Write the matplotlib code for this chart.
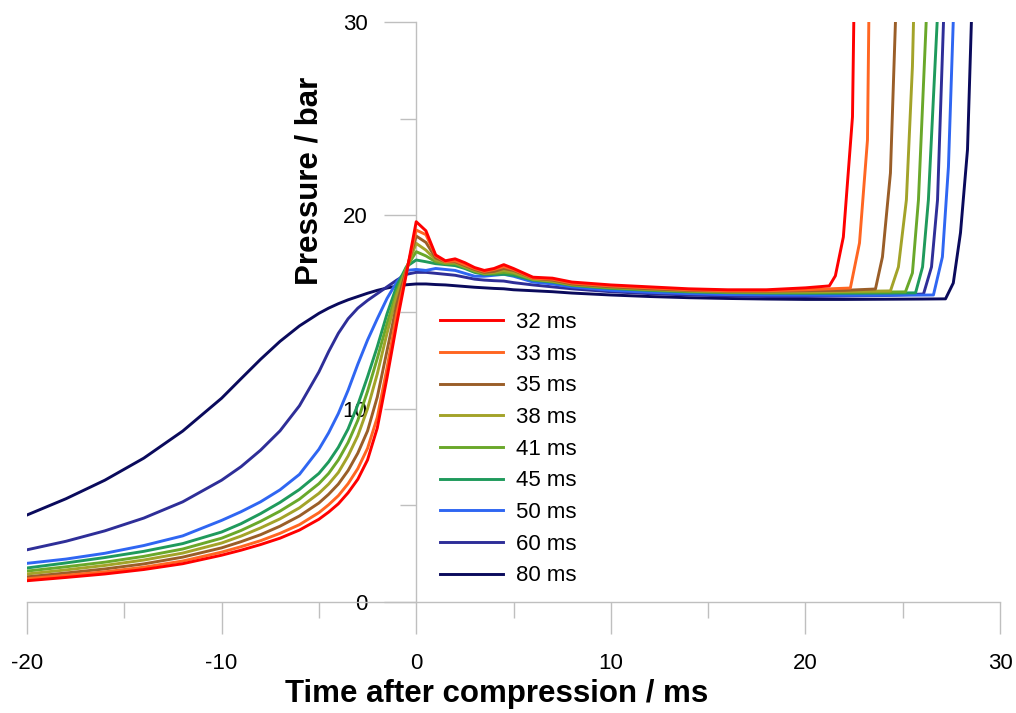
import matplotlib
matplotlib.use('Agg')
from matplotlib import pyplot as plt
from matplotlib.ticker import MultipleLocator

plt.rcParams['font.family'] = ['Liberation Sans', 'DejaVu Sans']
plt.rcParams['axes.unicode_minus'] = False

# common time grid (ms), each series gets its own tail after t = 20
t_base = [-20, -18, -16, -14, -12, -10, -9, -8, -7, -6, -5, -4.5, -4, -3.5, -3, -2.5, -2, -1.5, -1, -0.5,
          0, 0.5, 1, 1.5, 2, 2.5, 3, 3.5, 4, 4.5, 5, 6, 7, 8, 10, 12, 14, 16, 18, 20]

labels = ['32 ms', '33 ms', '35 ms', '38 ms', '41 ms', '45 ms', '50 ms', '60 ms', '80 ms']
colors = ['#FF0000', '#FF6622', '#9A5E28', '#A3A329', '#6AA82A', '#1F9A5C', '#2F66F2', '#2E2E98', '#0A0A5C']

p_32 = [1.1, 1.27, 1.45, 1.68, 1.98, 2.42, 2.68, 2.97, 3.3, 3.72, 4.28, 4.65, 5.08, 5.65, 6.35, 7.35, 9.0, 11.6, 14.4, 17.0,
        19.67, 19.2, 17.95, 17.65, 17.75, 17.55, 17.3, 17.15, 17.25, 17.45, 17.25, 16.8, 16.75, 16.55, 16.4, 16.3, 16.2, 16.15, 16.15, 16.25]
p_33 = [1.2, 1.38, 1.56, 1.8, 2.12, 2.58, 2.86, 3.17, 3.55, 4.0, 4.62, 5.03, 5.5, 6.12, 6.9, 7.95, 9.55, 12.1, 14.9, 17.1,
        19.24, 19.0, 17.9, 17.6, 17.65, 17.45, 17.25, 17.1, 17.2, 17.35, 17.2, 16.75, 16.7, 16.5, 16.35, 16.25, 16.15, 16.1, 16.1, 16.15]
p_35 = [1.3, 1.5, 1.71, 1.97, 2.32, 2.8, 3.12, 3.48, 3.92, 4.45, 5.12, 5.57, 6.1, 6.8, 7.7, 8.85, 10.6, 13.0, 15.4, 17.2,
        18.93, 18.6, 17.8, 17.6, 17.6, 17.4, 17.2, 17.05, 17.1, 17.25, 17.15, 16.75, 16.65, 16.45, 16.3, 16.2, 16.12, 16.08, 16.08, 16.1]
p_38 = [1.45, 1.66, 1.89, 2.17, 2.53, 3.05, 3.41, 3.83, 4.3, 4.87, 5.62, 6.1, 6.7, 7.55, 8.6, 10.0, 11.8, 13.9, 15.85, 17.25,
        18.55, 18.2, 17.7, 17.55, 17.55, 17.35, 17.15, 17.0, 17.05, 17.15, 17.05, 16.7, 16.6, 16.42, 16.28, 16.17, 16.1, 16.05, 16.04, 16.05]
p_41 = [1.6, 1.82, 2.06, 2.36, 2.74, 3.3, 3.7, 4.17, 4.7, 5.32, 6.12, 6.65, 7.35, 8.25, 9.4, 10.9, 12.6, 14.4, 16.05, 17.3,
        18.12, 17.9, 17.6, 17.5, 17.5, 17.3, 17.1, 16.98, 17.0, 17.05, 17.0, 16.68, 16.58, 16.4, 16.25, 16.15, 16.07, 16.02, 16.0, 16.0]
p_45 = [1.76, 2.02, 2.3, 2.62, 3.02, 3.62, 4.05, 4.57, 5.15, 5.82, 6.65, 7.25, 8.0, 8.95, 10.2, 11.65, 13.2, 14.9, 16.35, 17.35,
        17.69, 17.6, 17.5, 17.45, 17.4, 17.25, 17.05, 16.95, 16.95, 16.95, 16.9, 16.65, 16.55, 16.38, 16.22, 16.12, 16.04, 16.0, 15.98, 15.97]
p_50 = [2.0, 2.22, 2.52, 2.92, 3.42, 4.22, 4.67, 5.18, 5.8, 6.6, 7.9, 8.75, 9.75, 10.95, 12.3, 13.55, 14.65, 15.7, 16.55, 17.15,
        17.2, 17.15, 17.25, 17.2, 17.15, 17.0, 16.85, 16.85, 16.9, 16.95, 16.85, 16.55, 16.45, 16.3, 16.12, 16.02, 15.95, 15.9, 15.88, 15.87]
p_60 = [2.7, 3.14, 3.68, 4.34, 5.18, 6.3, 7.0, 7.85, 8.85, 10.15, 11.9, 12.95, 13.9, 14.65, 15.2, 15.6, 15.95, 16.3, 16.65, 16.95,
        17.05, 17.05, 17.0, 16.95, 16.9, 16.8, 16.7, 16.65, 16.62, 16.6, 16.52, 16.4, 16.3, 16.2, 16.05, 15.95, 15.88, 15.83, 15.8, 15.8]
p_80 = [4.5, 5.34, 6.3, 7.44, 8.84, 10.54, 11.55, 12.55, 13.48, 14.28, 14.93, 15.2, 15.43, 15.63, 15.8, 15.97, 16.12, 16.24, 16.34, 16.41,
        16.45, 16.45, 16.42, 16.4, 16.36, 16.32, 16.28, 16.25, 16.22, 16.2, 16.15, 16.1, 16.05, 15.98, 15.88, 15.8, 15.74, 15.7, 15.67, 15.65]

# end of plateau + ignition rise
tail_t_32 = [21.23, 21.54, 21.95, 22.42, 22.5]
tail_p_32 = [16.35, 16.87, 18.88, 25.1, 31]
tail_t_33 = [22.31, 22.78, 23.19, 23.27]
tail_p_33 = [16.24, 18.57, 23.9, 31]
tail_t_35 = [22.0, 23.6, 23.96, 24.37, 24.66]
tail_p_35 = [16.12, 16.19, 17.85, 22.19, 31]
tail_t_38 = [22.0, 24.37, 24.78, 25.19, 25.5, 25.58]
tail_p_38 = [16.06, 16.09, 17.33, 20.8, 27.7, 31]
tail_t_41 = [22.0, 25.14, 25.5, 25.81, 26.25]
tail_p_41 = [16.02, 16.04, 17.02, 20.8, 31]
tail_t_45 = [22.0, 24.0, 25.66, 26.02, 26.32, 26.82]
tail_p_45 = [15.97, 15.98, 15.99, 17.33, 20.8, 31]
tail_t_50 = [22.0, 24.0, 26.58, 27.04, 27.35, 27.63]
tail_p_50 = [15.86, 15.86, 15.88, 17.85, 22.5, 31]
tail_t_60 = [22.0, 24.0, 26.07, 26.48, 26.79, 27.13]
tail_p_60 = [15.82, 15.85, 15.93, 17.33, 20.8, 31]
tail_t_80 = [22.0, 24.0, 26.0, 27.2, 27.6, 27.97, 28.33, 28.56]
tail_p_80 = [15.65, 15.66, 15.67, 15.68, 16.5, 19.1, 23.4, 31]


def main():
    series = [(p_32, tail_t_32, tail_p_32), (p_33, tail_t_33, tail_p_33), (p_35, tail_t_35, tail_p_35),
              (p_38, tail_t_38, tail_p_38), (p_41, tail_t_41, tail_p_41), (p_45, tail_t_45, tail_p_45),
              (p_50, tail_t_50, tail_p_50), (p_60, tail_t_60, tail_p_60), (p_80, tail_t_80, tail_p_80)]

    fig = plt.figure(figsize=(10.16, 7.13), dpi=100)
    ax = fig.add_axes([27 / 1016, 111 / 713, 973 / 1016, 580 / 713])

    handles = []
    n = len(series)
    for i, (p, tt, tp) in enumerate(series):
        line, = ax.plot(t_base + tt, p + tp, color=colors[i], lw=2.1, label=labels[i],
                        zorder=3 + (n - i) * 0.01, solid_joinstyle='round')
        handles.append(line)

    ax.set_xlim(-20, 30)
    ax.set_ylim(0, 30)

    grey = '#BFBFBF'
    ax.spines['top'].set_visible(False)
    ax.spines['right'].set_visible(False)
    ax.spines['left'].set_position(('data', 0))
    for s in ('left', 'bottom'):
        ax.spines[s].set_color(grey)
        ax.spines[s].set_linewidth(1)

    ax.xaxis.set_major_locator(MultipleLocator(10))
    ax.xaxis.set_minor_locator(MultipleLocator(5))
    ax.yaxis.set_major_locator(MultipleLocator(10))
    ax.yaxis.set_minor_locator(MultipleLocator(5))
    ax.tick_params(axis='both', which='both', direction='out', color=grey, width=1, labelsize=16)
    ax.tick_params(axis='both', which='major', length=23)
    ax.tick_params(axis='both', which='minor', length=11.5)
    ax.tick_params(axis='x', which='major', pad=14)
    ax.tick_params(axis='y', which='major', pad=12)

    fig.text(310 / 1016, 1 - 181 / 713, 'Pressure / bar', rotation=90, ha='center', va='center',
             fontsize=22.5, fontweight='bold')
    fig.text(497 / 1016, 1 - 694 / 713, 'Time after compression / ms', ha='center', va='center',
             fontsize=22.5, fontweight='bold')

    ax.legend(handles, labels, loc='upper left', bbox_to_anchor=(440 / 1016, 1 - 312 / 713),
              bbox_transform=fig.transFigure, frameon=False, fontsize=16, handlelength=2.84,
              handletextpad=0.6, labelspacing=0.48, borderpad=0, borderaxespad=0)

    fig.savefig('out.png', dpi=100)


if __name__ == '__main__':
    main()
